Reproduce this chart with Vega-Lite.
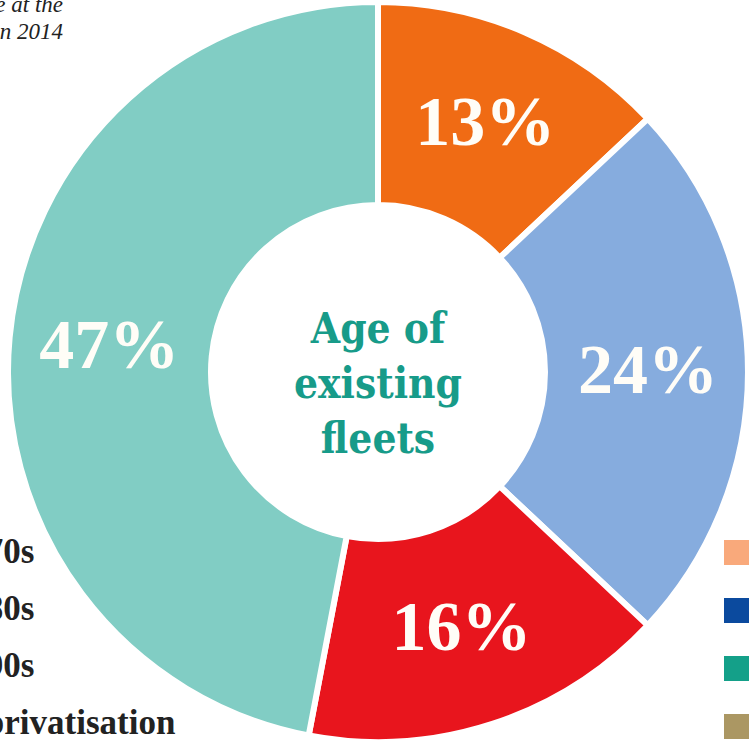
{
  "$schema": "https://vega.github.io/schema/vega-lite/v6.json",
  "width": 742,
  "height": 744,
  "autosize": {"type": "none"},
  "padding": {"left": 7, "top": 0, "right": 0, "bottom": 0},
  "background": "white",
  "config": {"view": {"stroke": null}},
  "title": {
    "text": ["Proportion of trains in service at the", "start of the new franchise in 2014"],
    "orient": "top",
    "anchor": "start",
    "align": "right",
    "frame": "group",
    "dx": 56,
    "dy": 72,
    "offset": 0,
    "baseline": "alphabetic",
    "font": "Liberation Serif",
    "fontStyle": "italic",
    "fontWeight": "normal",
    "fontSize": 23,
    "lineHeight": 27,
    "color": "#222222"
  },
  "layer": [
    {
      "data": {
        "values": [
          {"cat": "In 1970s", "share": 13, "pct": "13%"},
          {"cat": "In 1980s", "share": 24, "pct": "24%"},
          {"cat": "In 1990s", "share": 16, "pct": "16%"},
          {"cat": "Post-privatisation", "share": 47, "pct": "47%"}
        ]
      },
      "layer": [
        {
          "mark": {"type": "arc", "innerRadius": 167, "outerRadius": 370, "stroke": "white", "strokeWidth": 6},
          "encoding": {
            "theta": {"field": "share", "type": "quantitative", "stack": true},
            "order": {"field": "cat", "type": "nominal", "sort": "ascending"},
            "color": {
              "field": "cat",
              "type": "nominal",
              "scale": {
                "domain": ["In 1970s", "In 1980s", "In 1990s", "Post-privatisation"],
                "range": ["#f06b14", "#86acde", "#e8151d", "#81cdc4"]
              },
              "legend": {
                "orient": "none",
                "legendX": -138,
                "legendY": 534,
                "title": null,
                "padding": 0,
                "symbolSize": 100,
                "labelOffset": 5,
                "rowPadding": 21,
                "labelLimit": 600,
                "labelFont": "Liberation Serif",
                "labelFontWeight": "bold",
                "labelFontSize": 35,
                "labelColor": "#222222"
              }
            }
          }
        },
        {
          "mark": {"type": "text", "radius": 270, "font": "Liberation Serif", "fontWeight": "bold", "fontSize": 70, "fill": "#fffdf7", "align": "center", "baseline": "middle"},
          "encoding": {
            "theta": {"field": "share", "type": "quantitative", "stack": true},
            "order": {"field": "cat", "type": "nominal", "sort": "ascending"},
            "detail": {"field": "cat", "type": "nominal"},
            "text": {"field": "pct", "type": "nominal"}
          }
        }
      ]
    },
    {
      "data": {"values": [{"title": "Age of existing fleets"}]},
      "mark": {
        "type": "text",
        "text": ["Age of", "existing", "fleets"],
        "font": "DejaVu Serif Condensed, DejaVu Serif",
        "fontWeight": "bold",
        "fontSize": 42,
        "lineHeight": 55,
        "fill": "#179b89",
        "align": "center",
        "baseline": "middle",
        "dy": -42
      },
      "encoding": {}
    },
    {
      "data": {
        "values": [
          {"era": "1970s"},
          {"era": "1980s"},
          {"era": "1990s"},
          {"era": "Post-privatisation"}
        ]
      },
      "mark": {"type": "square", "size": 0, "filled": true, "opacity": 1},
      "encoding": {
        "fill": {
          "field": "era",
          "type": "nominal",
          "scale": {
            "domain": ["1970s", "1980s", "1990s", "Post-privatisation"],
            "range": ["#f9a97b", "#0b4a9e", "#14a089", "#ab9763"]
          },
          "legend": {
            "orient": "none",
            "legendX": 717,
            "legendY": 540,
            "title": null,
            "padding": 0,
            "symbolType": "square",
            "symbolSize": 625,
            "symbolStrokeWidth": 0,
            "symbolOpacity": 1,
            "labelFontSize": 12,
            "rowPadding": 33
          }
        }
      }
    }
  ]
}
